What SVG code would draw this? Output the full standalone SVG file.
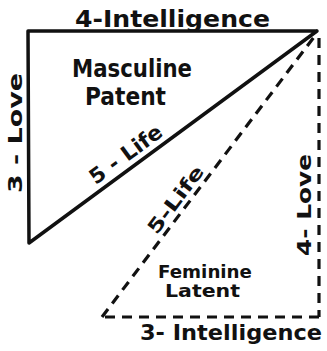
<svg xmlns="http://www.w3.org/2000/svg" width="327" height="351" viewBox="0 0 327 351">
<style>
.s{fill:none;stroke:#111;stroke-width:3.5;stroke-linecap:round;stroke-linejoin:round}
.d{fill:none;stroke:#111;stroke-width:3.2;stroke-dasharray:10 7;stroke-linecap:butt}
text{font-family:"DejaVu Sans","Liberation Sans",sans-serif;font-weight:bold;fill:#111}
</style>
<rect width="327" height="351" fill="#fff"/>
<g id="connectors">
<polyline class="s" points="317,31 28,31 29,243 317,31"/>
<line class="d" x1="319" y1="38" x2="319" y2="317"/>
<line class="d" x1="319" y1="317" x2="102" y2="317"/>
<line class="d" x1="102" y1="317" x2="314" y2="37"/>
</g>
<g id="masculine">
<text x="72" y="77" font-size="25" textLength="120" lengthAdjust="spacingAndGlyphs">Masculine</text>
<text x="85" y="105" font-size="25" textLength="81" lengthAdjust="spacingAndGlyphs">Patent</text>
</g>
<g id="feminine">
<text x="158" y="278" font-size="17" textLength="94" lengthAdjust="spacingAndGlyphs">Feminine</text>
<text x="165" y="297" font-size="17" textLength="75" lengthAdjust="spacingAndGlyphs">Latent</text>
</g>
<g id="labels">
<text x="75" y="27" font-size="23" textLength="195" lengthAdjust="spacingAndGlyphs">4-Intelligence</text>
<text x="140" y="340" font-size="22" textLength="182" lengthAdjust="spacingAndGlyphs">3- Intelligence</text>
<text transform="translate(22,193) rotate(-90)" x="0" y="0" font-size="20" textLength="120" lengthAdjust="spacingAndGlyphs">3 - Love</text>
<text transform="translate(311,256) rotate(-90)" x="0" y="0" font-size="20" textLength="102" lengthAdjust="spacingAndGlyphs">4- Love</text>
<text transform="translate(127,156) rotate(-36.3)" x="0" y="5" font-size="21" text-anchor="middle" textLength="85" lengthAdjust="spacingAndGlyphs">5 - Life</text>
<text transform="translate(176,200) rotate(-53)" x="0" y="6" font-size="19" text-anchor="middle" textLength="80" lengthAdjust="spacingAndGlyphs">5-Life</text>
</g>
</svg>
